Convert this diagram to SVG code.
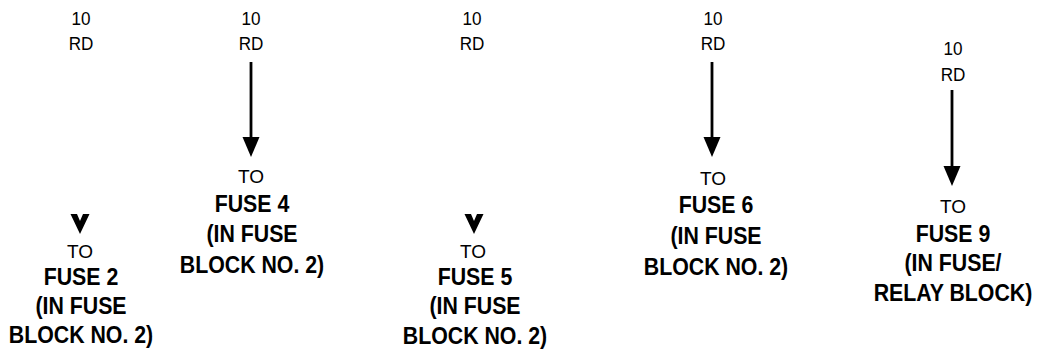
<svg xmlns="http://www.w3.org/2000/svg" width="1038" height="362" viewBox="0 0 1038 362">
<style>
text{font-family:"Liberation Sans",Arial,Helvetica,sans-serif;fill:#000;text-anchor:middle}
.r{font-size:19px}
.b{font-size:24.5px;font-weight:bold}
.w{stroke:#000;stroke-width:2.8;fill:none}
.v{fill:#000;fill-rule:evenodd}
</style>
<defs>
<marker id="ah" markerUnits="userSpaceOnUse" markerWidth="20" markerHeight="18" viewBox="0 -9 20 18" refX="0" refY="0" orient="auto">
<path d="M0,-8.5 L20,0 L0,8.5 Z" fill="#000"/>
</marker>
<path id="vh" d="M-9.5,0 L9.5,0 L0,20 Z M-3,0 L3,0 L0,7 Z"/>
</defs>
<rect width="1038" height="362" fill="#fff"/>
<g id="connectors">
<use href="#vh" class="v" x="80" y="214"/>
<line class="w" x1="251" y1="62" x2="251" y2="137" marker-end="url(#ah)"/>
<use href="#vh" class="v" x="474" y="214"/>
<line class="w" x1="712" y1="62" x2="712" y2="137" marker-end="url(#ah)"/>
<line class="w" x1="952" y1="90" x2="952" y2="166" marker-end="url(#ah)"/>
</g>
<g id="wire1" transform="translate(81 0) scale(0.9 1)">
<text class="r" x="0" y="25">10</text>
<text class="r" x="0" y="50">RD</text>
</g>
<g id="fuse2">
<text class="r" x="80" y="258">TO</text>
<g transform="translate(81 0) scale(0.87 1)">
<text class="b" x="0" y="285">FUSE 2</text>
<text class="b" x="0" y="314">(IN FUSE</text>
<text class="b" x="0" y="343">BLOCK NO. 2)</text>
</g>
</g>
<g id="wire2" transform="translate(251 0) scale(0.9 1)">
<text class="r" x="0" y="25">10</text>
<text class="r" x="0" y="50">RD</text>
</g>
<g id="fuse4">
<text class="r" x="251" y="183">TO</text>
<g transform="translate(252 0) scale(0.87 1)">
<text class="b" x="0" y="212">FUSE 4</text>
<text class="b" x="0" y="242">(IN FUSE</text>
<text class="b" x="0" y="273">BLOCK NO. 2)</text>
</g>
</g>
<g id="wire3" transform="translate(472 0) scale(0.9 1)">
<text class="r" x="0" y="25">10</text>
<text class="r" x="0" y="50">RD</text>
</g>
<g id="fuse5">
<text class="r" x="473" y="258">TO</text>
<g transform="translate(475 0) scale(0.87 1)">
<text class="b" x="0" y="285">FUSE 5</text>
<text class="b" x="0" y="314">(IN FUSE</text>
<text class="b" x="0" y="344">BLOCK NO. 2)</text>
</g>
</g>
<g id="wire4" transform="translate(713 0) scale(0.9 1)">
<text class="r" x="0" y="25">10</text>
<text class="r" x="0" y="50">RD</text>
</g>
<g id="fuse6">
<text class="r" x="713" y="185">TO</text>
<g transform="translate(716 0) scale(0.87 1)">
<text class="b" x="0" y="213">FUSE 6</text>
<text class="b" x="0" y="244">(IN FUSE</text>
<text class="b" x="0" y="275">BLOCK NO. 2)</text>
</g>
</g>
<g id="wire5" transform="translate(953 0) scale(0.9 1)">
<text class="r" x="0" y="55">10</text>
<text class="r" x="0" y="81">RD</text>
</g>
<g id="fuse9">
<text class="r" x="953" y="213">TO</text>
<g transform="translate(953 0) scale(0.87 1)">
<text class="b" x="0" y="242">FUSE 9</text>
<text class="b" x="0" y="271">(IN FUSE/</text>
<text class="b" x="0" y="301">RELAY BLOCK)</text>
</g>
</g>
</svg>
